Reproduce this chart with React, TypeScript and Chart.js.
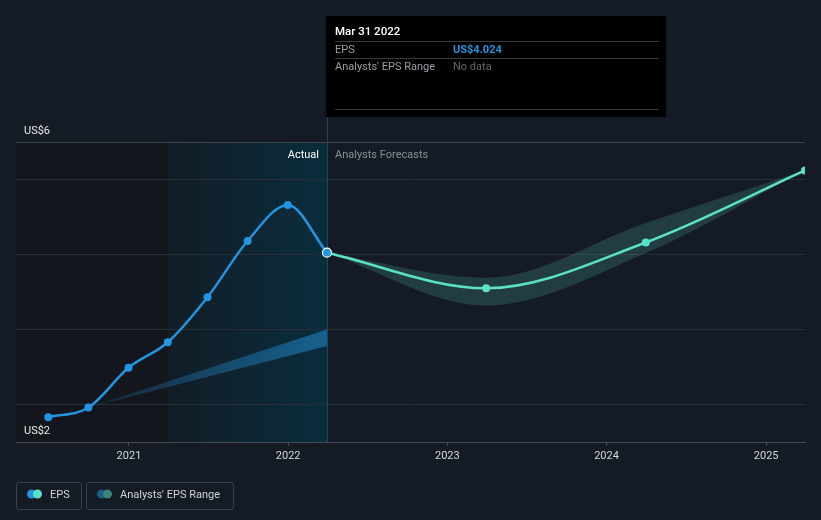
import React, { useEffect, useRef } from "react";
import { Chart, registerables } from "chart.js";

Chart.register(...registerables);

// ---------- data ----------
const actualDates = ["2020-06-30", "2020-09-30", "2020-12-31", "2021-03-31", "2021-06-30", "2021-09-30", "2021-12-31", "2022-03-31"];
const actualEps = [1.83, 1.96, 2.49, 2.83, 3.43, 4.18, 4.66, 4.024];

const forecastDates = ["2022-03-31", "2023-03-31", "2024-03-31", "2025-03-31"];
const forecastEps = [4.024, 3.55, 4.16, 5.12];
const forecastHigh = [4.024, 3.69, 4.42, 5.12];
const forecastLow = [4.024, 3.32, 4.02, 5.12];

const pastRangeDates = ["2020-06-30", "2020-09-30", "2022-03-31"];
const pastRangeHigh = [1.83, 1.96, 3.0];
const pastRangeLow = [1.83, 1.96, 2.78];

const yearTicks = [2021, 2022, 2023, 2024, 2025];
const yAxisLabels = ["US$6", "US$2"];
const xRange = ["2020-04-17", "2025-03-31"];
const yRange = [1.5, 5.5];
const yGrid = [2, 3, 4, 5];
const shadeStart = "2021-03-31";
const nowDate = "2022-03-31";

const tooltipTitle = "Mar 31 2022";
const tooltipRows = [
  ["EPS", "US$4.024"],
  ["Analysts' EPS Range", "No data"],
];
const legendItems = ["EPS", "Analysts' EPS Range"];

// ---------- styles ----------
const BG = "#151b25";
const BLUE = "#2394df";
const TEAL = "#5ce0c8";
const FONT = "Roboto, 'Noto Sans', sans-serif";

const toT = (d: string) => Date.parse(d + "T00:00:00Z");
const pts = (dates: string[], vals: number[]) => dates.map((d, i) => ({ x: toT(d), y: vals[i] }));

function roundRect(ctx: CanvasRenderingContext2D, x: number, y: number, w: number, h: number, r: number) {
  ctx.beginPath();
  ctx.moveTo(x + r, y);
  ctx.lineTo(x + w - r, y);
  ctx.arcTo(x + w, y, x + w, y + r, r);
  ctx.lineTo(x + w, y + h - r);
  ctx.arcTo(x + w, y + h, x + w - r, y + h, r);
  ctx.lineTo(x + r, y + h);
  ctx.arcTo(x, y + h, x, y + h - r, r);
  ctx.lineTo(x, y + r);
  ctx.arcTo(x, y, x + r, y, r);
  ctx.closePath();
}

const decor = {
  id: "decor",
  beforeDraw(chart: any) {
    const { ctx, chartArea: a, scales } = chart;
    const x = scales.x;
    ctx.save();
    ctx.fillStyle = BG;
    ctx.fillRect(0, 0, chart.width, chart.height);
    const xPast = x.getPixelForValue(toT(shadeStart));
    const xNow = x.getPixelForValue(toT(nowDate));
    ctx.fillStyle = "#13161d";
    ctx.fillRect(a.left, a.top, xPast - a.left, a.bottom - a.top);
    const g = ctx.createLinearGradient(xPast, 0, xNow, 0);
    g.addColorStop(0, "rgb(17,29,38)");
    g.addColorStop(1, "rgb(10,45,61)");
    ctx.fillStyle = g;
    ctx.fillRect(xPast, a.top, xNow - xPast, a.bottom - a.top);
    ctx.restore();
  },
  beforeDatasetsDraw(chart: any) {
    const { ctx, chartArea: a, scales } = chart;
    const xNow = Math.round(scales.x.getPixelForValue(toT(nowDate))) + 0.5;
    ctx.save();
    ctx.strokeStyle = "rgb(28,72,92)";
    ctx.lineWidth = 1;
    ctx.beginPath();
    ctx.moveTo(xNow, 117);
    ctx.lineTo(xNow, a.bottom);
    ctx.stroke();
    ctx.restore();
  },
  afterDraw(chart: any) {
    const { ctx, chartArea: a, scales } = chart;
    const xNow = scales.x.getPixelForValue(toT(nowDate));
    ctx.save();
    // top rule
    ctx.strokeStyle = "rgb(62,66,76)";
    ctx.lineWidth = 1;
    ctx.beginPath();
    ctx.moveTo(a.left, Math.round(a.top) + 0.5);
    ctx.lineTo(a.right, Math.round(a.top) + 0.5);
    ctx.stroke();

    // y labels
    ctx.font = `11px ${FONT}`;
    ctx.textBaseline = "middle";
    ctx.textAlign = "left";
    ctx.fillStyle = "#e8e8e8";
    ctx.fillText(yAxisLabels[0], 24, a.top - 11);
    ctx.fillText(yAxisLabels[1], 24, a.bottom - 11);

    // section labels
    ctx.textAlign = "right";
    ctx.fillStyle = "#ffffff";
    ctx.fillText("Actual", xNow - 8, a.top + 13);
    ctx.textAlign = "left";
    ctx.fillStyle = "#8a8f98";
    ctx.fillText("Analysts Forecasts", xNow + 8, a.top + 13);

    // tooltip
    const tx = 326, ty = 16, tw = 340, th = 101;
    ctx.fillStyle = "#000000";
    ctx.fillRect(tx, ty, tw, th);
    ctx.fillStyle = "#ffffff";
    ctx.font = `500 11.5px ${FONT}`;
    ctx.fillText(tooltipTitle, 335, 32);
    ctx.strokeStyle = "rgb(58,58,60)";
    const sep = (y: number) => {
      ctx.beginPath();
      ctx.moveTo(335, y + 0.5);
      ctx.lineTo(659, y + 0.5);
      ctx.stroke();
    };
    sep(41);
    ctx.font = `11px ${FONT}`;
    ctx.fillStyle = "#9a9da3";
    ctx.fillText(tooltipRows[0][0], 335, 50);
    ctx.fillStyle = BLUE;
    ctx.font = `bold 11px ${FONT}`;
    ctx.fillText(tooltipRows[0][1], 453, 50);
    sep(58);
    ctx.font = `11px ${FONT}`;
    ctx.fillStyle = "#9a9da3";
    ctx.fillText(tooltipRows[1][0], 335, 67);
    ctx.fillStyle = "#62666c";
    ctx.fillText(tooltipRows[1][1], 453, 67);
    sep(109);

    // legend
    ctx.strokeStyle = "rgb(62,66,76)";
    ctx.lineWidth = 1;
    roundRect(ctx, 16.5, 482.5, 65, 27, 3);
    ctx.stroke();
    roundRect(ctx, 86.5, 482.5, 147, 27, 3);
    ctx.stroke();
    const dot = (cx: number, c: string) => {
      ctx.fillStyle = c;
      ctx.beginPath();
      ctx.arc(cx, 494, 4.5, 0, Math.PI * 2);
      ctx.fill();
    };
    dot(31.5, BLUE);
    dot(37.5, TEAL);
    dot(101.5, "#1f5d86");
    dot(107.5, "#38847b");
    ctx.font = `11px ${FONT}`;
    ctx.fillStyle = "#d0d2d6";
    ctx.fillText(legendItems[0], 50, 495);
    ctx.fillText(legendItems[1], 120, 495);
    ctx.restore();
  },
};

export default function App() {
  const ref = useRef<HTMLCanvasElement | null>(null);

  useEffect(() => {
    if (!ref.current) return;
    const n = actualDates.length;
    const chart = new Chart(ref.current, {
      type: "line",
      data: {
        datasets: [
          {
            label: "EPS",
            data: pts(actualDates, actualEps),
            borderColor: BLUE,
            borderWidth: 2.5,
            cubicInterpolationMode: "monotone",
            pointRadius: actualDates.map((_, i) => (i === n - 1 ? 4.5 : 4)),
            pointBackgroundColor: BLUE,
            pointBorderColor: actualDates.map((_, i) => (i === n - 1 ? "#ffffff" : BLUE)),
            pointBorderWidth: actualDates.map((_, i) => (i === n - 1 ? 1.2 : 0)),
            fill: false,
            order: 0,
          },
          {
            label: "EPS forecast",
            data: pts(forecastDates, forecastEps),
            borderColor: TEAL,
            borderWidth: 2.5,
            cubicInterpolationMode: "monotone",
            pointRadius: forecastDates.map((_, i) => (i === 0 ? 0 : 4)),
            pointBackgroundColor: TEAL,
            pointBorderWidth: 0,
            fill: false,
            order: 1,
          },
          {
            label: "Range high",
            data: pts(forecastDates, forecastHigh),
            borderWidth: 0,
            pointRadius: 0,
            cubicInterpolationMode: "monotone",
            backgroundColor: "rgba(88,200,185,0.2)",
            fill: "+1",
            order: 2,
          },
          {
            label: "Range low",
            data: pts(forecastDates, forecastLow),
            borderWidth: 0,
            pointRadius: 0,
            cubicInterpolationMode: "monotone",
            fill: false,
            order: 3,
          },
          {
            label: "Past range high",
            data: pts(pastRangeDates, pastRangeHigh),
            borderWidth: 0,
            pointRadius: 0,
            backgroundColor: (c: any) => {
              const chart = c.chart;
              const x = chart.scales.x;
              if (!chart.chartArea || !x) return "rgba(35,148,223,0.4)";
              const x0 = x.getPixelForValue(toT(pastRangeDates[1]));
              const x1 = x.getPixelForValue(toT(pastRangeDates[2]));
              const g = chart.ctx.createLinearGradient(x0, 0, x1, 0);
              g.addColorStop(0, "rgba(35,148,223,0.15)");
              g.addColorStop(1, "rgba(35,148,223,0.5)");
              return g;
            },
            fill: "+1",
            order: 4,
          },
          {
            label: "Past range low",
            data: pts(pastRangeDates, pastRangeLow),
            borderWidth: 0,
            pointRadius: 0,
            fill: false,
            order: 5,
          },
        ],
      },
      options: {
        animation: false,
        responsive: false,
        events: [],
        layout: { padding: { left: 16, right: 16, top: 142, bottom: 0 } },
        plugins: { legend: { display: false }, tooltip: { enabled: false } },
        scales: {
          x: {
            type: "linear",
            min: toT(xRange[0]),
            max: toT(xRange[1]),
            afterBuildTicks: (s: any) => {
              s.ticks = yearTicks.map((y) => ({ value: Date.UTC(y, 0, 1) }));
            },
            afterFit: (s: any) => {
              s.height = 78;
            },
            ticks: {
              autoSkip: false,
              maxRotation: 0,
              color: "#d6d8dc",
              font: { family: FONT, size: 11 },
              padding: 4,
              callback: (v: any) => String(new Date(v).getUTCFullYear()),
            },
            grid: {
              display: true,
              drawOnChartArea: false,
              drawTicks: true,
              tickLength: 4,
              color: "rgb(70,74,84)",
            },
            border: { display: true, color: "rgb(70,74,84)", width: 1 },
          },
          y: {
            type: "linear",
            min: yRange[0],
            max: yRange[1],
            afterBuildTicks: (s: any) => {
              s.ticks = yGrid.map((v) => ({ value: v }));
            },
            afterFit: (s: any) => {
              s.width = 0;
            },
            ticks: { display: false },
            grid: { color: "rgb(40,45,55)", drawTicks: false, lineWidth: 1 },
            border: { display: false },
          },
        },
      },
      plugins: [decor],
    } as any);
    return () => chart.destroy();
  }, []);

  return (
    <div style={{ position: "fixed", left: 0, top: 0, width: 821, height: 520, background: BG }}>
      <canvas ref={ref} width={821} height={520} style={{ display: "block", width: 821, height: 520 }} />
    </div>
  );
}
